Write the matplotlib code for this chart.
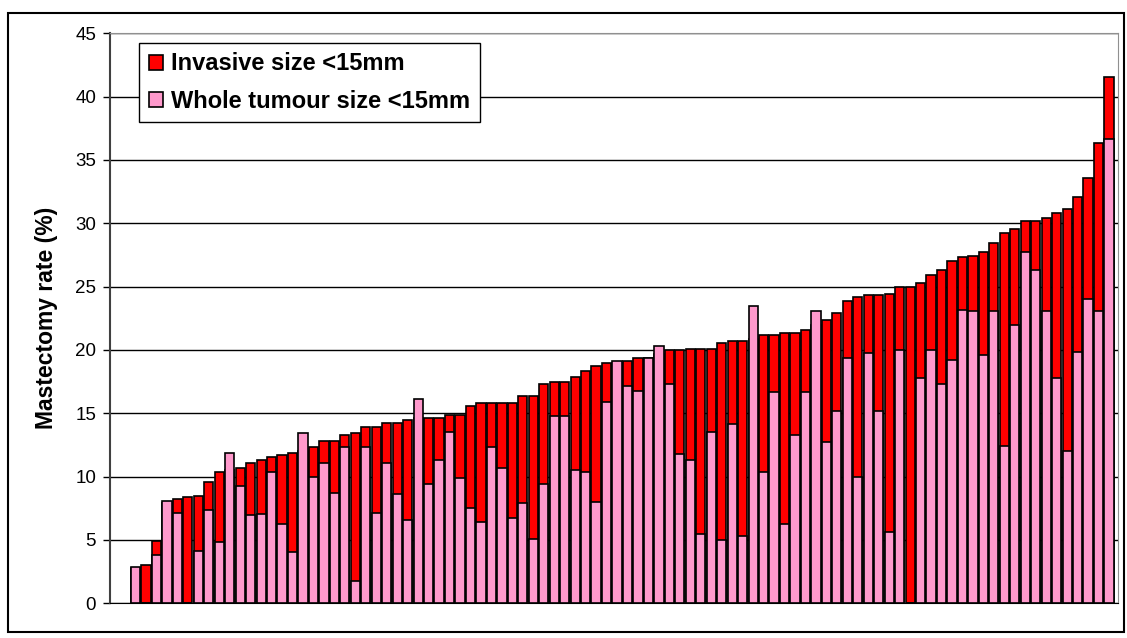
import matplotlib.pyplot as plt
from matplotlib.patches import Rectangle

plt.rcParams['font.family'] = ['Liberation Sans', 'DejaVu Sans']

invasive = [2.8, 3.0, 4.9, 7.9, 8.25, 8.4, 8.5, 9.6, 10.4, 10.5,
            10.7, 11.05, 11.35, 11.55, 11.7, 11.85, 12.0, 12.35, 12.8, 12.8,
            13.3, 13.45, 13.9, 13.9, 14.25, 14.25, 14.5, 14.6, 14.65, 14.65,
            14.85, 14.85, 15.6, 15.8, 15.8, 15.8, 15.8, 16.4, 16.4, 17.35,
            17.5, 17.5, 17.85, 18.3, 18.75, 18.95, 19.0, 19.1, 19.4, 19.4,
            19.7, 20.0, 20.0, 20.05, 20.05, 20.05, 20.55, 20.7, 20.7, 20.9,
            21.15, 21.15, 21.3, 21.3, 21.6, 22.0, 22.4, 22.9, 23.85, 24.15,
            24.3, 24.3, 24.45, 24.95, 24.95, 25.25, 25.9, 26.35, 27.0, 27.3,
            27.45, 27.7, 28.45, 29.25, 29.55, 30.15, 30.15, 30.45, 30.8, 31.1,
            32.1, 33.6, 36.3, 41.55]

whole = [2.85, 0, 3.8, 8.05, 7.1, 0, 4.1, 7.4, 4.85, 11.85,
         9.25, 6.95, 7.05, 10.4, 6.3, 4.05, 13.45, 9.95, 11.05, 8.7,
         12.3, 1.75, 12.3, 7.1, 11.05, 8.65, 6.55, 16.1, 9.4, 11.35,
         13.55, 9.9, 7.5, 6.4, 12.3, 10.7, 6.7, 7.9, 5.05, 9.45,
         14.8, 14.8, 10.5, 10.4, 8.0, 15.9, 19.1, 17.15, 16.75, 19.4,
         20.35, 17.3, 11.8, 11.3, 5.45, 13.5, 5.0, 14.15, 5.3, 23.5,
         10.4, 16.7, 6.25, 13.25, 16.7, 23.05, 12.75, 15.15, 19.4, 9.95,
         19.75, 15.15, 5.65, 20.0, 0, 17.8, 20.0, 17.35, 19.2, 23.15,
         23.1, 19.6, 23.1, 12.45, 21.95, 27.7, 26.35, 23.1, 17.75, 12.0,
         19.8, 24.05, 23.1, 36.65]

x = list(range(len(invasive)))

fig = plt.figure(figsize=(11.27, 6.38), dpi=100)
ax = fig.add_axes([110 / 1127, 1 - 603.3 / 638, 1008 / 1127, 570 / 638])

# outer chart border
fig.patches.append(Rectangle((8 / 1127, 1 - 632 / 638), 1116 / 1127, 619 / 638,
                             transform=fig.transFigure, fill=False,
                             edgecolor='black', linewidth=1.5))

ax.bar(x, invasive, width=0.88, color='#FF0000', edgecolor='black',
       linewidth=1.2, label='Invasive size <15mm', zorder=2)
ax.bar(x, whole, width=0.88, color='#FF99CC', edgecolor='black',
       linewidth=1.2, label='Whole tumour size <15mm', zorder=3)

ax.set_xlim(-2.44, 93.86)
ax.set_ylim(0, 45)
ax.set_yticks(range(0, 50, 5))
ax.set_xticks([])
ax.yaxis.grid(True, color='black', linewidth=1)
ax.set_axisbelow(True)
ax.tick_params(axis='y', labelsize=13.5, length=5, width=1, pad=5)

ax.spines['left'].set_color('#404040')
ax.spines['left'].set_linewidth(1.5)
ax.spines['top'].set_color('#909090')
ax.spines['right'].set_color('#909090')
ax.spines['bottom'].set_color('black')

ax.set_ylabel('Mastectomy rate (%)', fontsize=16.5, fontweight='bold', labelpad=12)

leg = ax.legend(loc='upper left', bbox_to_anchor=(0.029, 0.983),
                prop={'size': 17, 'weight': 'bold'}, fancybox=False,
                framealpha=1, edgecolor='black', handlelength=0.6,
                handleheight=0.6, handletextpad=0.35, borderpad=0.4,
                labelspacing=0.6, borderaxespad=0)
leg.get_frame().set_linewidth(1)

fig.savefig('out.png', dpi=100)
